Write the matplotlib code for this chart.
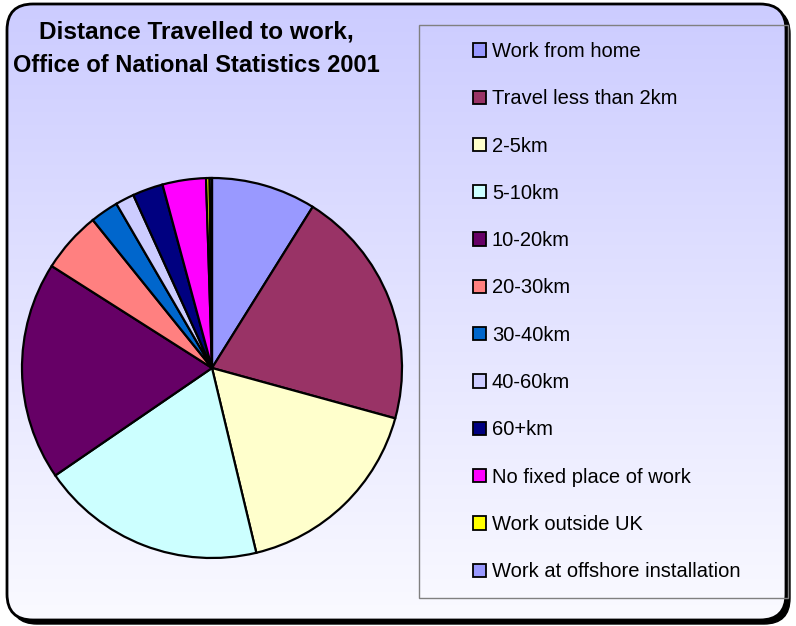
import numpy as np
import matplotlib
matplotlib.use("Agg")
import matplotlib.pyplot as plt
from matplotlib.patches import FancyBboxPatch, Rectangle

plt.rcParams['font.family'] = ['Liberation Sans', 'DejaVu Sans']

# ---- data (percent of workers) ----
categories = ["Work from home", "Travel less than 2km", "2-5km", "5-10km",
              "10-20km", "20-30km", "30-40km", "40-60km", "60+km",
              "No fixed place of work", "Work outside UK",
              "Work at offshore installation"]
values = [8.9, 20.4, 17.0, 19.2, 18.6, 5.2, 2.4, 1.6, 2.6, 3.7, 0.3, 0.2]
colors = ["#9999FF", "#993366", "#FFFFCC", "#CCFFFF", "#660066", "#FF8080",
          "#0066CC", "#CCCCFF", "#000080", "#FF00FF", "#FFFF00", "#9999FF"]
title_lines = ["Distance Travelled to work,", "Office of National Statistics 2001"]

W, H = 796, 626
fig = plt.figure(figsize=(W / 100, H / 100), dpi=100)
fig.patch.set_facecolor("white")

# background axes in pixel coordinates
bg = fig.add_axes([0, 0, 1, 1])
bg.set_xlim(0, W)
bg.set_ylim(H, 0)
bg.axis("off")

x0, y0, x1, y1 = 7, 4, 786, 620
rs = 26
shadow = FancyBboxPatch((x0 + 4, y0 + 4), x1 - x0, y1 - y0,
                        boxstyle=f"round,pad=0,rounding_size={rs}",
                        facecolor="black", edgecolor="black", lw=1, zorder=1)
bg.add_patch(shadow)
frame_fill = FancyBboxPatch((x0, y0), x1 - x0, y1 - y0,
                            boxstyle=f"round,pad=0,rounding_size={rs}",
                            facecolor="white", edgecolor="none", zorder=2)
bg.add_patch(frame_fill)
grad = np.linspace(0, 1, 256).reshape(-1, 1)
top = np.array([204, 204, 255]) / 255
bot = np.array([250, 250, 255]) / 255
img = top[None, None, :] * (1 - grad[:, :, None]) + bot[None, None, :] * grad[:, :, None]
im = bg.imshow(img, extent=(x0, x1, y1, y0), aspect="auto", zorder=3,
               interpolation="bilinear")
im.set_clip_path(frame_fill)
frame = FancyBboxPatch((x0, y0), x1 - x0, y1 - y0,
                       boxstyle=f"round,pad=0,rounding_size={rs}",
                       facecolor="none", edgecolor="black", lw=2, zorder=4)
bg.add_patch(frame)

# legend box
bg.add_patch(Rectangle((419, 25), 788 - 419, 598 - 25, facecolor="none",
                       edgecolor="#808080", lw=1, zorder=5))

# title
for txt, ty, fs in zip(title_lines, [32, 65], [17.6, 17]):
    fig.text(196 / W, 1 - ty / H, txt, ha="center", va="center",
             fontsize=fs, fontweight="bold", zorder=10)

# pie
cx, cy, r = 212, 368, 190
ax = fig.add_axes([(cx - r) / W, (H - cy - r) / H, 2 * r / W, 2 * r / H])
ax.patch.set_visible(False)
wedges, _ = ax.pie(values, colors=colors, startangle=90, counterclock=False,
                   wedgeprops=dict(edgecolor="black", linewidth=1.6))
ax.set_xlim(-1.0, 1.0)
ax.set_ylim(-1.0, 1.0)
ax.set_aspect("auto")

leg = fig.legend(wedges, categories, loc="upper left",
                 bbox_to_anchor=(473 / W, 1 - 42 / H), frameon=False,
                 fontsize=14.5, handlelength=0.64, handleheight=0.64,
                 handletextpad=0.3, labelspacing=1.405, borderpad=0,
                 borderaxespad=0)
for h in leg.legend_handles:
    h.set_linewidth(1.3)
    h.set_edgecolor("black")

fig.savefig("out.png", dpi=100, facecolor="white")
